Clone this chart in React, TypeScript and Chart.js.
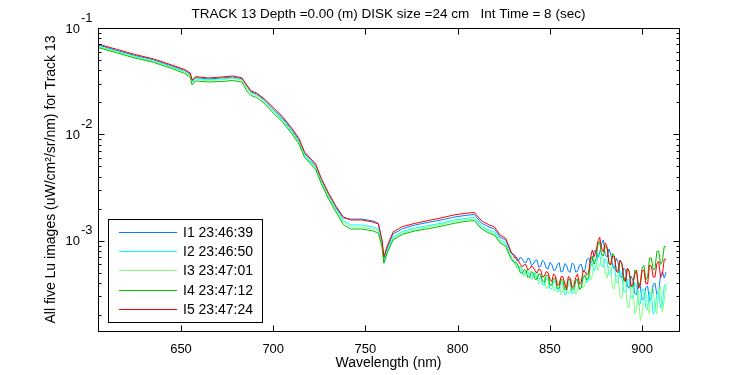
import React, { useEffect, useRef } from 'react';
import { Chart, registerables } from 'chart.js';

Chart.register(...registerables);

const wavelengths = [
  605, 615, 625, 635, 645, 652, 655, 656, 658, 665, 672, 678, 683, 686, 688, 691, 695, 700, 705, 710,
  714, 717, 720, 723, 726, 730, 734, 738, 742, 748, 754, 757, 759, 760, 762, 765, 770, 777, 784, 791,
  798, 804, 809, 813, 817, 820, 823, 826, 829,
  831, 832, 833, 834, 835, 836, 837, 838, 839, 840, 841, 842, 843, 844, 845, 846, 847, 848, 849, 850,
  851, 852, 853, 854, 855, 856, 857, 858, 859, 860, 861, 862, 863, 864, 865, 866, 867, 868, 869, 870,
  871, 872, 873, 874, 875, 876, 877, 878, 879, 880, 881, 882, 883, 884, 885, 886, 887, 888, 889, 890,
  891, 892, 893, 894, 895, 896, 897, 898, 899, 900, 901, 902, 903, 904, 905, 906, 907, 908, 909, 910,
  911, 912, 913,
];

const i1 = [
  0.0692, 0.0617, 0.0552, 0.0502, 0.0439, 0.0399, 0.037, 0.0318, 0.0341, 0.0332,
  0.0339, 0.0346, 0.0334, 0.0279, 0.025, 0.024, 0.0213, 0.0173, 0.0143, 0.0111,
  0.00886, 0.00661, 0.00581, 0.00511, 0.00377, 0.00272, 0.00206, 0.00164, 0.0016, 0.0016,
  0.00154, 0.00146, 0.000974, 0.000674, 0.000875, 0.00116, 0.0013, 0.00141, 0.00149, 0.00157,
  0.00167, 0.00173, 0.00177, 0.00146, 0.00135, 0.00129, 0.00108, 0.00102, 0.000768,
  0.000735, 0.000653, 0.000646, 0.000704, 0.000674, 0.000632, 0.000619, 0.000684, 0.000679, 0.000582,
  0.000605, 0.000653, 0.00066, 0.000564, 0.000576, 0.000657, 0.000632, 0.000554, 0.000543, 0.000625,
  0.000605, 0.000526, 0.000532, 0.000595, 0.000623, 0.00051, 0.000514, 0.00061, 0.000592, 0.000518,
  0.000506, 0.000615, 0.000601, 0.000507, 0.000517, 0.00059, 0.000605, 0.00051, 0.000532, 0.000667,
  0.000689, 0.000618, 0.000646, 0.000802, 0.000819, 0.000697, 0.000768, 0.000943, 0.00102, 0.000743,
  0.000704, 0.000837, 0.000751, 0.000586, 0.000543, 0.000689, 0.000632, 0.000472, 0.000447, 0.000554,
  0.000532, 0.000372, 0.00036, 0.000467, 0.000428, 0.000323, 0.00031, 0.000406, 0.000376, 0.000278,
  0.000284, 0.000364, 0.000376, 0.000275, 0.00029, 0.000389, 0.000401, 0.000313, 0.00033, 0.000477,
  0.00051, 0.000447, 0.00051,
];

const i2 = [
  0.0677, 0.0604, 0.054, 0.0492, 0.043, 0.039, 0.0362, 0.0311, 0.0334, 0.0325,
  0.0332, 0.0339, 0.0327, 0.0273, 0.0245, 0.0235, 0.0208, 0.017, 0.0138, 0.0108,
  0.00858, 0.0064, 0.00562, 0.00494, 0.00365, 0.00264, 0.00199, 0.00155, 0.00141, 0.00141,
  0.00135, 0.00129, 0.000933, 0.000646, 0.000819, 0.00108, 0.00122, 0.00132, 0.00139, 0.00146,
  0.00157, 0.00162, 0.00166, 0.00137, 0.00126, 0.00121, 0.00102, 0.000954, 0.000719,
  0.000619, 0.000554, 0.000579, 0.000573, 0.000498, 0.000467, 0.00052, 0.000515, 0.000457, 0.000442,
  0.000498, 0.00051, 0.000428, 0.000428, 0.000467, 0.000384, 0.000384, 0.000447, 0.000428, 0.000356,
  0.000353, 0.000414, 0.000419, 0.000334, 0.000338, 0.000414, 0.000393, 0.000313, 0.000316, 0.000393,
  0.000401, 0.000319, 0.00033, 0.000424, 0.000419, 0.000353, 0.00036, 0.000447, 0.000467, 0.000406,
  0.000428, 0.000573, 0.000619, 0.000521, 0.000579, 0.000704, 0.000751, 0.000579, 0.000567, 0.000682,
  0.000646, 0.000483, 0.000488, 0.000592, 0.000579, 0.00041, 0.000401, 0.000521, 0.000488, 0.000334,
  0.00033, 0.000433, 0.000428, 0.00029, 0.00029, 0.000406, 0.000384, 0.000252, 0.000255, 0.000349,
  0.000345, 0.000234, 0.000224, 0.00033, 0.000316, 0.000205, 0.000219, 0.000323, 0.000338, 0.000234,
  0.000255, 0.000376, 0.000393,
];

const i3 = [
  0.067, 0.0597, 0.0534, 0.0487, 0.0425, 0.0386, 0.0358, 0.0304, 0.033, 0.0321,
  0.0328, 0.0335, 0.0324, 0.027, 0.0242, 0.0232, 0.0206, 0.0166, 0.0135, 0.0105,
  0.00839, 0.00626, 0.00549, 0.00483, 0.00357, 0.00259, 0.00195, 0.0015, 0.00135, 0.00135,
  0.00129, 0.00124, 0.000893, 0.000605, 0.000802, 0.00105, 0.00118, 0.00127, 0.00135, 0.00142,
  0.00152, 0.00157, 0.0016, 0.00134, 0.00122, 0.00117, 0.000985, 0.000923, 0.000704,
  0.000646, 0.00056, 0.000543, 0.000573, 0.000554, 0.000467, 0.000478, 0.000537, 0.00052, 0.000433,
  0.000447, 0.00051, 0.000498, 0.000393, 0.00041, 0.000457, 0.000457, 0.000353, 0.000368, 0.000442,
  0.000428, 0.000341, 0.000345, 0.000414, 0.000419, 0.000313, 0.000338, 0.00041, 0.000401, 0.000316,
  0.00033, 0.000424, 0.000419, 0.000313, 0.000353, 0.000433, 0.000437, 0.00036, 0.000384, 0.000515,
  0.000532, 0.000428, 0.000467, 0.000639, 0.000674, 0.000526, 0.000592, 0.000704, 0.000674, 0.000499,
  0.000447, 0.000573, 0.000554, 0.000364, 0.000353, 0.000477, 0.000467, 0.000293, 0.000284, 0.000424,
  0.000401, 0.000236, 0.000239, 0.000368, 0.000368, 0.000205, 0.000239, 0.000345, 0.000176, 0.00021,
  0.00033, 0.000334, 0.000229, 0.000207, 0.00036, 0.000356, 0.000229, 0.000207, 0.000353, 0.000372,
  0.000214, 0.000275, 0.000393,
];

const i4 = [
  0.0656, 0.0585, 0.0522, 0.0476, 0.0416, 0.0374, 0.0346, 0.0291, 0.0318, 0.0311,
  0.0314, 0.0321, 0.0311, 0.025, 0.0232, 0.0222, 0.0197, 0.0159, 0.0131, 0.0102,
  0.00812, 0.00607, 0.00533, 0.00468, 0.00346, 0.00247, 0.00187, 0.00142, 0.00129, 0.00129,
  0.00124, 0.00118, 0.000875, 0.000619, 0.000785, 0.00102, 0.00115, 0.00124, 0.0013, 0.00137,
  0.00146, 0.00152, 0.00155, 0.00129, 0.00118, 0.00113, 0.000954, 0.000893, 0.000674,
  0.000619, 0.000625, 0.000567, 0.000499, 0.000498, 0.000532, 0.000532, 0.000452, 0.000457, 0.000515,
  0.000498, 0.000433, 0.000437, 0.00049, 0.000482, 0.000419, 0.000405, 0.000477, 0.000472, 0.000383,
  0.000384, 0.000442, 0.000447, 0.000356, 0.00036, 0.000433, 0.000428, 0.000349, 0.000345, 0.000437,
  0.000428, 0.000347, 0.000356, 0.000426, 0.000437, 0.000349, 0.00036, 0.000462, 0.000478, 0.000428,
  0.000457, 0.000646, 0.000719, 0.000605, 0.000674, 0.000913, 0.000996, 0.000735, 0.000719, 0.000893,
  0.000856, 0.000605, 0.000592, 0.00076, 0.000719, 0.000521, 0.000498, 0.000646, 0.000619, 0.000424,
  0.000419, 0.000548, 0.00052, 0.000371, 0.000373, 0.00053, 0.00052, 0.000374, 0.000405, 0.000554,
  0.000586, 0.000431, 0.000457, 0.000689, 0.000689, 0.000537, 0.000543, 0.000796, 0.000802, 0.000598,
  0.000646, 0.000884, 0.000875,
];

const i5 = [
  0.0707, 0.0631, 0.0564, 0.0513, 0.0449, 0.0407, 0.0378, 0.0325, 0.0349, 0.0339,
  0.0346, 0.0354, 0.0341, 0.0285, 0.0256, 0.0245, 0.0217, 0.0179, 0.0147, 0.0115,
  0.00915, 0.00683, 0.006, 0.00527, 0.00389, 0.00281, 0.00212, 0.00167, 0.00157, 0.00157,
  0.0015, 0.00144, 0.00102, 0.000709, 0.000913, 0.00121, 0.00136, 0.00146, 0.00155, 0.00164,
  0.00175, 0.00181, 0.00185, 0.00154, 0.00141, 0.00135, 0.00113, 0.00106, 0.000785,
  0.000689, 0.000697, 0.000646, 0.000598, 0.000567, 0.000595, 0.000598, 0.000532, 0.000547, 0.000579,
  0.000564, 0.000521, 0.000498, 0.000543, 0.000532, 0.000457, 0.000467, 0.000513, 0.000504, 0.000433,
  0.000414, 0.000488, 0.00047, 0.000383, 0.000387, 0.000457, 0.000462, 0.000401, 0.000349, 0.000465,
  0.000447, 0.000364, 0.000376, 0.000452, 0.000488, 0.000389, 0.00041, 0.000524, 0.000514, 0.00048,
  0.000498, 0.000689, 0.000819, 0.000711, 0.000802, 0.000985, 0.00108, 0.000856, 0.000785, 0.000957,
  0.00088, 0.000624, 0.000598, 0.000719, 0.000711, 0.000518, 0.00052, 0.00066, 0.000619, 0.00046,
  0.000414, 0.000554, 0.000514, 0.000373, 0.00039, 0.000484, 0.000526, 0.000357, 0.000382, 0.000527,
  0.000526, 0.000396, 0.000393, 0.000592, 0.000579, 0.000457, 0.000457, 0.000605, 0.000646, 0.000455,
  0.000482, 0.000671, 0.000674,
];

const seriesValues = [i1, i2, i3, i4, i5];
const seriesLabels = ['I1 23:46:39', 'I2 23:46:50', 'I3 23:47:01', 'I4 23:47:12', 'I5 23:47:24'];
const seriesColors = ['#0080ff', '#00ffff', '#80ff80', '#00c000', '#ff0000'];

const xTicks = [650, 700, 750, 800, 850, 900];
const xMin = 605;
const xMax = 920;
const yMin = 1.42e-4;
const yMax = 0.1;
const yDecades = [1e-4, 1e-3, 1e-2, 1e-1];

const titleText = 'TRACK 13 Depth =0.00 (m) DISK size =24 cm   Int Time = 8 (sec)';
const xTitle = 'Wavelength (nm)';
const yTitle = 'All five Lu images (uW/cm\u00b2/sr/nm) for Track 13';

const FONT = '"Liberation Sans", Arial, Helvetica, sans-serif';

const framePlugin = {
  id: 'matlabFrame',
  afterDraw(chart: any) {
    const ctx = chart.ctx as CanvasRenderingContext2D;
    const { left, right, top, bottom } = chart.chartArea;
    const xs = chart.scales.x;
    const ys = chart.scales.y;
    const L = Math.round(left) + 0.5;
    const R = Math.round(right) + 0.5;
    const T = Math.round(top) + 0.5;
    const B = Math.round(bottom) + 0.5;
    ctx.save();
    ctx.strokeStyle = '#000';
    ctx.lineWidth = 1;
    ctx.strokeRect(L, T, R - L, B - T);

    ctx.beginPath();
    xTicks.forEach((v) => {
      const px = Math.round(xs.getPixelForValue(v)) + 0.5;
      ctx.moveTo(px, B);
      ctx.lineTo(px, B - 6);
      ctx.moveTo(px, T);
      ctx.lineTo(px, T + 6);
    });
    yDecades.forEach((d) => {
      for (let m = 1; m <= 9; m++) {
        const v = d * m;
        if (v < yMin || v > yMax * 1.0001) continue;
        const py = Math.round(ys.getPixelForValue(v)) + 0.5;
        const len = m === 1 ? 6 : 3;
        ctx.moveTo(L, py);
        ctx.lineTo(L + len, py);
        ctx.moveTo(R, py);
        ctx.lineTo(R - len, py);
      }
    });
    ctx.stroke();

    ctx.fillStyle = '#000';
    ctx.font = '13px ' + FONT;
    ctx.textAlign = 'center';
    ctx.textBaseline = 'middle';
    xTicks.forEach((v) => {
      ctx.fillText(String(v), xs.getPixelForValue(v), 349);
    });

    yDecades.forEach((d) => {
      if (d < yMin || d > yMax * 1.0001) return;
      const py = ys.getPixelForValue(d);
      ctx.font = '13px ' + FONT;
      ctx.textAlign = 'right';
      ctx.textBaseline = 'middle';
      ctx.fillText('10', 80, py + 1);
      ctx.textAlign = 'left';
      ctx.fillText(String(Math.round(Math.log10(d))), 81, py - 10);
    });

    const cx = (left + right) / 2;
    ctx.font = '13.5px ' + FONT;
    ctx.textAlign = 'center';
    ctx.textBaseline = 'alphabetic';
    ctx.fillText(titleText, cx, 18);
    ctx.font = '14px ' + FONT;
    ctx.textBaseline = 'middle';
    ctx.fillText(xTitle, cx, 363);
    ctx.save();
    ctx.translate(51, (top + bottom) / 2);
    ctx.rotate(-Math.PI / 2);
    ctx.fillText(yTitle, 0, 0);
    ctx.restore();

    const bx = 108.5;
    const by = 219.5;
    const bw = 154;
    const bh = 103;
    ctx.fillStyle = '#fff';
    ctx.fillRect(bx, by, bw, bh);
    ctx.strokeStyle = '#000';
    ctx.strokeRect(bx, by, bw, bh);
    seriesLabels.forEach((lab, k) => {
      const ry = Math.round(231.7 + k * 19.3) + 0.5;
      ctx.strokeStyle = seriesColors[k];
      ctx.beginPath();
      ctx.moveTo(119, ry);
      ctx.lineTo(177, ry);
      ctx.stroke();
      ctx.fillStyle = '#000';
      ctx.font = '14px ' + FONT;
      ctx.textAlign = 'left';
      ctx.textBaseline = 'middle';
      ctx.fillText(lab, 183, ry + 1);
    });
    ctx.restore();
  },
};

export default function App() {
  const ref = useRef<HTMLCanvasElement | null>(null);
  useEffect(() => {
    document.body.style.margin = '0';
    const canvas = ref.current;
    if (!canvas) return;
    const datasets = seriesValues.map((vals, k) => ({
      label: seriesLabels[k],
      data: wavelengths.map((w, j) => ({ x: w, y: vals[j] })),
      borderColor: seriesColors[k],
      backgroundColor: seriesColors[k],
      borderWidth: 1,
      pointRadius: 0,
      fill: false,
      tension: 0,
      order: seriesValues.length - 1 - k,
    }));
    const chart = new Chart(canvas, {
      type: 'line',
      data: { datasets },
      options: {
        responsive: false,
        animation: false,
        devicePixelRatio: 1,
        layout: { padding: { left: 98, top: 28, right: 71, bottom: 44 } },
        scales: {
          x: { type: 'linear', min: xMin, max: xMax, display: false },
          y: { type: 'logarithmic', min: yMin, max: yMax, display: false },
        },
        plugins: {
          legend: { display: false },
          tooltip: { enabled: false },
          title: { display: false },
        },
        elements: { point: { radius: 0 }, line: { borderWidth: 1 } },
      },
      plugins: [framePlugin],
    } as any);
    return () => chart.destroy();
  }, []);
  return (
    <div style={{ width: 750, height: 375, background: '#fff' }}>
      <canvas ref={ref} width={750} height={375} style={{ display: 'block' }} />
    </div>
  );
}
